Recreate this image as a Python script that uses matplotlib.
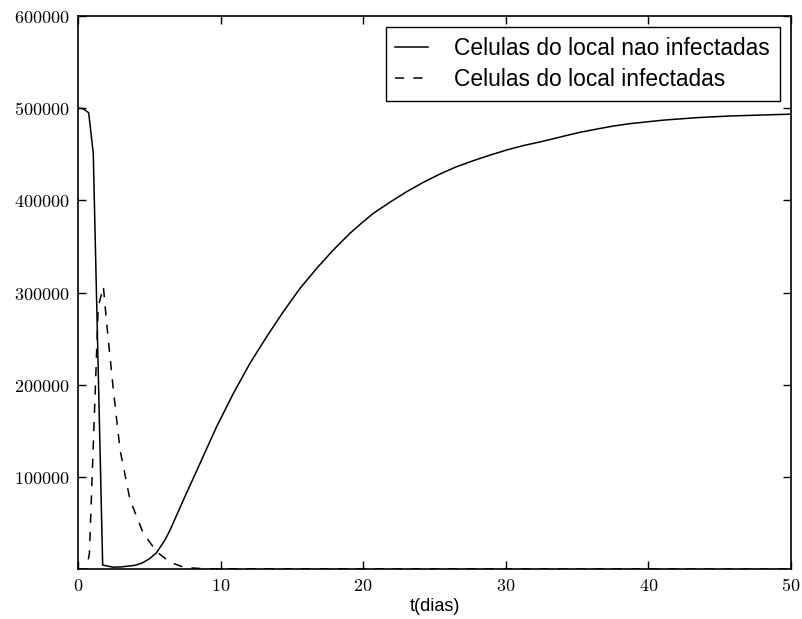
import matplotlib
matplotlib.use("Agg")
import matplotlib.pyplot as plt
from matplotlib.ticker import FuncFormatter

# Data
t_uninf = [0, 0.35, 0.75, 1.07, 1.73, 2.43, 3.0, 4.0, 4.5, 5.0, 5.5, 6.1, 6.45,
           7.39, 8.56, 9.72, 10.9, 12.06, 13.23, 14.4, 15.57, 16.74, 17.9,
           19.07, 19.9, 20.71, 21.9, 23.05, 24.2, 25.39, 26.5, 27.72, 28.9,
           30.06, 31.2, 32.4, 33.2, 34.03, 35.2, 36.37, 37.5, 38.7, 41.04,
           43.4, 45.7, 48.0, 50.0]
v_uninf = [500000, 499500, 495000, 451000, 4300, 2000, 2200, 4000, 6500, 11000,
           17500, 31500, 42000, 74900, 114700, 154400, 190600, 223200, 252000,
           279200, 304500, 326200, 346100, 364200, 375500, 385900, 398200,
           409400, 419400, 428600, 436200, 443000, 449100, 454600, 459300,
           463400, 466300, 469500, 473800, 477300, 480500, 483200, 487000,
           489700, 491500, 492600, 493500]

t_inf = [0, 0.6, 0.8, 1.42, 1.78, 2.01, 2.48, 2.95, 3.65, 4.58, 5.52, 6.45,
         7.5, 9.0, 50.0]
v_inf = [0, 0, 17000, 284600, 306300, 266500, 194200, 129100, 74900, 38700,
         18800, 7300, 1500, 200, 0]

labels = ["Celulas do local nao infectadas", "Celulas do local infectadas"]
xticks = [0, 10, 20, 30, 40, 50]
yticks = [100000, 200000, 300000, 400000, 500000, 600000]

plt.rcParams['mathtext.fontset'] = 'cm'
sans = ['Liberation Sans', 'DejaVu Sans']

fig = plt.figure(figsize=(8.03, 6.19), dpi=100)
ax = fig.add_axes([78/803, 50/619, (791-78)/803, (569-16)/619])

ax.plot(t_uninf, v_uninf, color='black', lw=1.1, linestyle='-', label=labels[0])
ax.plot(t_inf, v_inf, color='black', lw=1.1, linestyle=(0, (6, 6)), label=labels[1])

ax.set_xlim(0, 50)
ax.set_ylim(0, 600000)
ax.set_xticks(xticks)
ax.set_yticks(yticks)
fmt = FuncFormatter(lambda v, p: r'$%d$' % int(round(v)))
ax.xaxis.set_major_formatter(fmt)
ax.yaxis.set_major_formatter(fmt)
ax.tick_params(direction='in', length=5.5, width=1, top=True, right=True,
               labelsize=13, pad=6, colors='black')
for s in ax.spines.values():
    s.set_linewidth(1.2)
    s.set_color('black')

ax.set_xlabel('t(dias)', fontsize=13, family=sans, labelpad=2)

leg = ax.legend(loc='upper right', prop={'family': sans, 'size': 16.4},
                fancybox=False, framealpha=1, edgecolor='black',
                handlelength=1.45, labelspacing=0.36, borderaxespad=0.5,
                handletextpad=1.15, borderpad=0.42)
leg.get_frame().set_linewidth(1.0)

fig.savefig('out.png', dpi=100)
